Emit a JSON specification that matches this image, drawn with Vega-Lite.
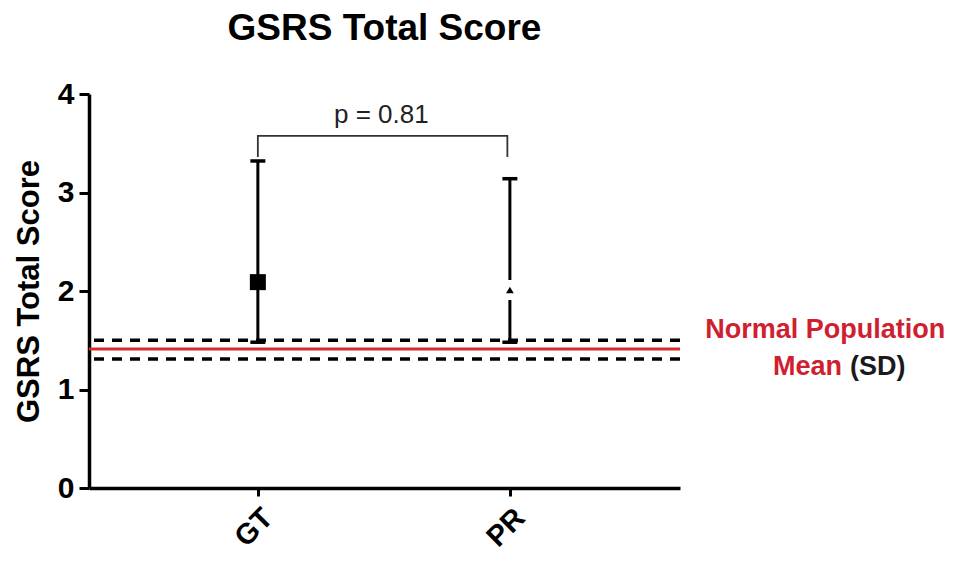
{
  "$schema": "https://vega.github.io/schema/vega-lite/v6.json",
  "width": 591,
  "height": 394,
  "autosize": {"type": "none"},
  "padding": {"left": 89, "top": 94, "right": 278, "bottom": 73},
  "background": "white",
  "config": {
    "view": {"stroke": null},
    "font": "Liberation Sans",
    "axis": {"grid": false, "domainColor": "black", "domainWidth": 3.5, "tickColor": "black", "tickWidth": 3, "labelColor": "black", "titleColor": "black", "labelFont": "Liberation Sans", "titleFont": "Liberation Sans"}
  },
  "title": {"text": "GSRS Total Score", "fontSize": 37, "fontWeight": "bold", "font": "Liberation Sans", "color": "black", "anchor": "middle", "frame": "group", "offset": 31},
  "datasets": {
    "groups": [
      {"group": "GT", "x": 1, "mean": 2.09, "lo": 1.48, "hi": 3.32},
      {"group": "PR", "x": 2, "mean": 2.01, "lo": 1.48, "hi": 3.14}
    ],
    "sd": [{"y": 1.5}, {"y": 1.31}],
    "mean": [{"y": 1.41}],
    "bracket": [
      {"x": 1, "y": 3.36, "o": 1},
      {"x": 1, "y": 3.574, "o": 2},
      {"x": 1.99, "y": 3.574, "o": 3},
      {"x": 1.99, "y": 3.36, "o": 4}
    ],
    "ptext": [{"x": 1.49, "y": 3.71, "label": "p = 0.81"}],
    "normtext": [{"x": 3.251, "y": 1.604, "label": "Normal Population"}],
    "meantext": [{"x": 3.334, "y": 1.228, "label": "Mean"}],
    "sdtext": [{"x": 3.334, "y": 1.228, "label": "(SD)"}]
  },
  "layer": [
    {
      "data": {"name": "sd"},
      "mark": {"type": "rule", "color": "black", "strokeWidth": 3.5, "strokeDash": [10, 8]},
      "encoding": {"y": {"field": "y", "type": "quantitative"}}
    },
    {
      "data": {"name": "mean"},
      "mark": {"type": "rule", "color": "#d42a2a", "strokeWidth": 3},
      "encoding": {"y": {"field": "y", "type": "quantitative"}}
    },
    {
      "data": {"name": "groups"},
      "mark": {"type": "rule", "color": "black", "strokeWidth": 3},
      "encoding": {
        "x": {"field": "x", "type": "quantitative", "scale": {"domain": [0.33, 2.675], "nice": false, "zero": false},
          "axis": {"values": [1, 2], "labelExpr": "datum.value == 1 ? 'GT' : 'PR'", "title": null, "labelAngle": -45, "labelFontSize": 29, "labelFontWeight": "bold", "tickSize": 8, "labelPadding": 7}},
        "y": {"field": "lo", "type": "quantitative", "scale": {"domain": [0, 4], "nice": false},
          "axis": {"values": [0, 1, 2, 3, 4], "format": "d", "title": "GSRS Total Score", "titleFontSize": 31, "titleFontWeight": "bold", "labelFontSize": 30, "labelFontWeight": "bold", "tickSize": 10, "labelPadding": 5, "titlePadding": 12}},
        "y2": {"field": "hi"}
      }
    },
    {
      "data": {"name": "groups"},
      "mark": {"type": "tick", "orient": "horizontal", "color": "black", "size": 15, "thickness": 3.5, "opacity": 1},
      "encoding": {"x": {"field": "x", "type": "quantitative"}, "y": {"field": "hi", "type": "quantitative"}}
    },
    {
      "data": {"name": "groups"},
      "mark": {"type": "tick", "orient": "horizontal", "color": "black", "size": 15, "thickness": 3.5, "opacity": 1},
      "encoding": {"x": {"field": "x", "type": "quantitative"}, "y": {"field": "lo", "type": "quantitative"}}
    },
    {
      "data": {"name": "groups"},
      "transform": [{"filter": "datum.group == 'GT'"}],
      "mark": {"type": "point", "shape": "square", "filled": true, "color": "black", "size": 256, "opacity": 1},
      "encoding": {"x": {"field": "x", "type": "quantitative"}, "y": {"field": "mean", "type": "quantitative"}}
    },
    {
      "data": {"name": "groups"},
      "transform": [{"filter": "datum.group == 'PR'"}],
      "mark": {"type": "point", "shape": "M-0.4,-1H0.4V1H-0.4Z", "filled": true, "color": "white", "size": 400, "opacity": 1},
      "encoding": {"x": {"field": "x", "type": "quantitative"}, "y": {"field": "mean", "type": "quantitative"}}
    },
    {
      "data": {"name": "groups"},
      "transform": [{"filter": "datum.group == 'PR'"}],
      "mark": {"type": "point", "shape": "triangle-up", "filled": true, "color": "black", "size": 60, "opacity": 1},
      "encoding": {"x": {"field": "x", "type": "quantitative"}, "y": {"field": "mean", "type": "quantitative"}}
    },
    {
      "data": {"name": "bracket"},
      "mark": {"type": "line", "color": "#333333", "strokeWidth": 1.8, "interpolate": "linear"},
      "encoding": {"x": {"field": "x", "type": "quantitative"}, "y": {"field": "y", "type": "quantitative"}, "order": {"field": "o"}}
    },
    {
      "data": {"name": "ptext"},
      "mark": {"type": "text", "fontSize": 26, "font": "Liberation Sans", "color": "#222222", "align": "center", "baseline": "alphabetic"},
      "encoding": {"x": {"field": "x", "type": "quantitative"}, "y": {"field": "y", "type": "quantitative"}, "text": {"field": "label"}}
    },
    {
      "data": {"name": "normtext"},
      "mark": {"type": "text", "fontSize": 27, "fontWeight": "bold", "font": "Liberation Sans", "color": "#d0202f", "align": "center", "baseline": "middle", "clip": false},
      "encoding": {"x": {"field": "x", "type": "quantitative"}, "y": {"field": "y", "type": "quantitative"}, "text": {"field": "label"}}
    },
    {
      "data": {"name": "meantext"},
      "mark": {"type": "text", "fontSize": 27, "fontWeight": "bold", "font": "Liberation Sans", "color": "#d0202f", "align": "right", "baseline": "middle", "dx": -4},
      "encoding": {"x": {"field": "x", "type": "quantitative"}, "y": {"field": "y", "type": "quantitative"}, "text": {"field": "label"}}
    },
    {
      "data": {"name": "sdtext"},
      "mark": {"type": "text", "fontSize": 27, "fontWeight": "bold", "font": "Liberation Sans", "color": "#1a1a1a", "align": "left", "baseline": "middle", "dx": 4},
      "encoding": {"x": {"field": "x", "type": "quantitative"}, "y": {"field": "y", "type": "quantitative"}, "text": {"field": "label"}}
    }
  ]
}
